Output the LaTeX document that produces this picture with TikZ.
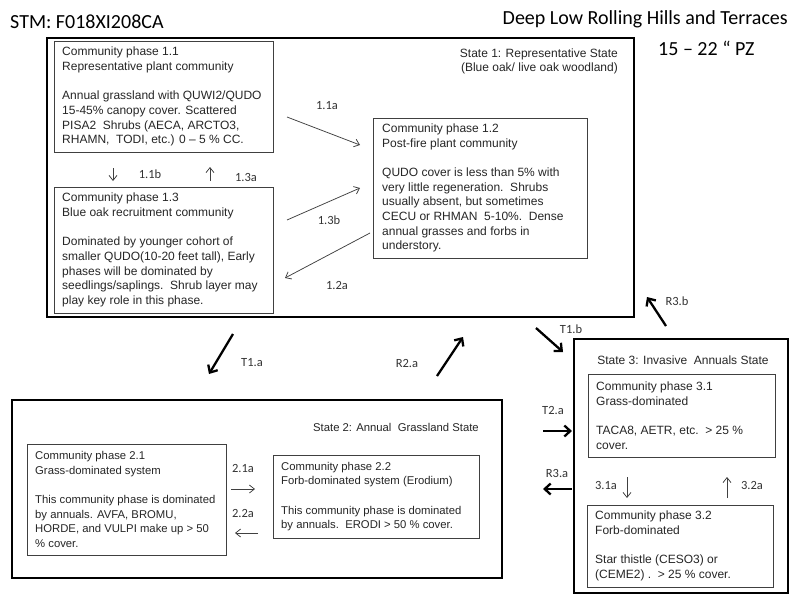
\documentclass[tikz,border=0pt]{standalone}
\usepackage{fontspec}
\setmainfont{Liberation Sans}
\newfontfamily\calfont{Carlito}
\usetikzlibrary{arrows.meta}
\begin{document}
\begin{tikzpicture}[x=1pt,y=-1pt,
 statebox/.style={draw=black,line width=2.8pt,inner sep=0pt,outer sep=0pt,anchor=north west},
 pbox/.style={draw=black!75,line width=0.8pt,inner sep=0pt,outer sep=0pt,anchor=north west},
 ptext/.style={anchor=west,align=left,inner sep=0pt,text=black!85,font=\fontsize{12}{14.7}\selectfont},
 ptextS/.style={ptext,font=\fontsize{11.3}{14.7}\selectfont},
 stlabel/.style={align=right,inner sep=0pt,text=black!85,font=\fontsize{12}{14.7}\selectfont},
 lbl/.style={text=black!80,inner sep=0pt,font=\calfont\fontsize{12.5}{14}\selectfont},
 title/.style={text=black,inner sep=0pt,font=\calfont\fontsize{20}{22}\selectfont},
 thinarrow/.style={draw=black!75,line width=0.75pt,-{Straight Barb[length=5pt,width=8pt]}},
 boldarrow/.style={draw=black,line width=2.3pt,-{Straight Barb[length=6pt,width=11pt]}},
]
\useasboundingbox (0,0) rectangle (800,600);
\fill[white] (0,0) rectangle (800,600);

% titles
\node[title,anchor=base west] (stm) at (10,28.5) {STM: F018XI208CA};
\node[title,anchor=base east] (site) at (788,24) {Deep Low Rolling Hills and Terraces};
\node[title,anchor=base west] (pz) at (658,55.7) {15 – 22 “ PZ};

% state boxes
\node[statebox,minimum width=587,minimum height=279] (s1) at (47,38) {};
\node[statebox,minimum width=490,minimum height=178] (s2) at (12,400) {};
\node[statebox,minimum width=214,minimum height=254] (s3) at (574,339) {};

\node[stlabel,anchor=east] (s1l) at (618,61.5) {State 1: Representative State\\(Blue oak/ live oak woodland)};
\node[stlabel,anchor=east,font=\fontsize{11.3}{14.7}\selectfont] (s2l) at (479,427) {State 2: Annual\ \ Grassland State};
\node[stlabel] (s3l) at (683,360) {State 3: Invasive\ \ Annuals State};

% community phase boxes
\node[pbox,minimum width=219,minimum height=111] (p11) at (54,41) {};
\node[ptext] (p11t) at ([xshift=8]p11.west) {Community phase 1.1\\Representative plant community\\[14.7pt]Annual grassland with QUWI2/QUDO\\15-45\% canopy cover. Scattered\\PISA2\ \ Shrubs (AECA, ARCTO3,\\RHAMN,\ \ TODI, etc.) 0 – 5 \% CC.};

\node[pbox,minimum width=219,minimum height=126] (p13) at (54,187) {};
\node[ptext] (p13t) at ([xshift=8]p13.west) {Community phase 1.3\\Blue oak recruitment community\\[14.7pt]Dominated by younger cohort of\\smaller QUDO(10-20 feet tall), Early\\phases will be dominated by\\seedlings/saplings.\ \ Shrub layer may\\play key role in this phase.};

\node[pbox,minimum width=214,minimum height=140] (p12) at (373,118) {};
\node[ptext] (p12t) at ([xshift=9]p12.west) {Community phase 1.2\\Post-fire plant community\\[14.7pt]QUDO cover is less than 5\% with\\very little regeneration.\ \ Shrubs\\usually absent, but sometimes\\CECU or RHMAN\ \ 5-10\%.\ \ Dense\\annual grasses and forbs in\\understory.};

\node[pbox,minimum width=199,minimum height=111] (p21) at (27,444) {};
\node[ptextS] (p21t) at ([xshift=8]p21.west) {Community phase 2.1\\Grass-dominated system\\[14.7pt]This community phase is dominated\\by annuals. AVFA, BROMU,\\HORDE, and VULPI make up > 50\\\% cover.};

\node[pbox,minimum width=206,minimum height=83] (p22) at (273,455) {};
\node[ptextS] (p22t) at ([xshift=8]p22.west) {Community phase 2.2\\Forb-dominated system (Erodium)\\[14.7pt]This community phase is dominated\\by annuals.\ \ ERODI > 50 \% cover.};

\node[pbox,minimum width=187,minimum height=83] (p31) at (588,374) {};
\node[ptext] (p31t) at ([xshift=8]p31.west) {Community phase 3.1\\Grass-dominated\\[14.7pt]TACA8, AETR, etc.\ \ > 25 \%\\cover.};

\node[pbox,minimum width=186,minimum height=82] (p32) at (587,505) {};
\node[ptext] (p32t) at ([xshift=8]p32.west) {Community phase 3.2\\Forb-dominated\\[14.7pt]Star thistle (CESO3) or\\(CEME2) .\ \ > 25 \% cover.};

% arrow end points
\coordinate (a11a1) at (287,117); \coordinate (a11a2) at (360,145);
\coordinate (a13b1) at (287,220); \coordinate (a13b2) at (360,188);
\coordinate (a12a1) at (370,233); \coordinate (a12a2) at (285,278);
\coordinate (a11b1) at (113,168); \coordinate (a11b2) at (113,181);
\coordinate (a13a1) at (210,181); \coordinate (a13a2) at (210,167);
\coordinate (t1a1) at (233,334); \coordinate (t1a2) at (209,374);
\coordinate (r2a1) at (437,376); \coordinate (r2a2) at (463,337);
\coordinate (t1b1) at (536,328); \coordinate (t1b2) at (563,352);
\coordinate (r3b1) at (666,326); \coordinate (r3b2) at (647,297);
\coordinate (t2a1) at (543,431); \coordinate (t2a2) at (572,431);
\coordinate (r3a1) at (572,489); \coordinate (r3a2) at (543,489);
\coordinate (a21a1) at (231,489); \coordinate (a21a2) at (255,489);
\coordinate (a22a1) at (258,533); \coordinate (a22a2) at (235,533);
\coordinate (a31a1) at (627,477); \coordinate (a31a2) at (627,498);
\coordinate (a32a1) at (727,498); \coordinate (a32a2) at (727,477);

% thin arrows
\draw[thinarrow] (a11a1) -- (a11a2);
\draw[thinarrow] (a13b1) -- (a13b2);
\draw[thinarrow] (a12a1) -- (a12a2);
\draw[thinarrow] (a11b1) -- (a11b2);
\draw[thinarrow] (a13a1) -- (a13a2);
\draw[thinarrow] (a21a1) -- (a21a2);
\draw[thinarrow] (a22a1) -- (a22a2);
\draw[thinarrow] (a31a1) -- (a31a2);
\draw[thinarrow] (a32a1) -- (a32a2);

% bold arrows
\draw[boldarrow] (t1a1) -- (t1a2);
\draw[boldarrow] (r2a1) -- (r2a2);
\draw[boldarrow] (t1b1) -- (t1b2);
\draw[boldarrow] (r3b1) -- (r3b2);
\draw[boldarrow] (t2a1) -- (t2a2);
\draw[boldarrow] (r3a1) -- (r3a2);

% labels
\node[lbl] (l11a) at (327,106) {1.1a};
\node[lbl] (l13b) at (329,220) {1.3b};
\node[lbl] (l12a) at (337,285) {1.2a};
\node[lbl] (l11b) at (150,174) {1.1b};
\node[lbl] (l13a) at (246,177) {1.3a};
\node[lbl] (lt1a) at (252,363) {T1.a};
\node[lbl] (lr2a) at (407,363) {R2.a};
\node[lbl] (lt1b) at (571,329) {T1.b};
\node[lbl] (lr3b) at (677,301) {R3.b};
\node[lbl] (lt2a) at (553,410) {T2.a};
\node[lbl] (lr3a) at (557,473) {R3.a};
\node[lbl] (l21a) at (243,468) {2.1a};
\node[lbl] (l22a) at (243,513) {2.2a};
\node[lbl] (l31a) at (606,485) {3.1a};
\node[lbl] (l32a) at (752,485) {3.2a};
\end{tikzpicture}
\end{document}
